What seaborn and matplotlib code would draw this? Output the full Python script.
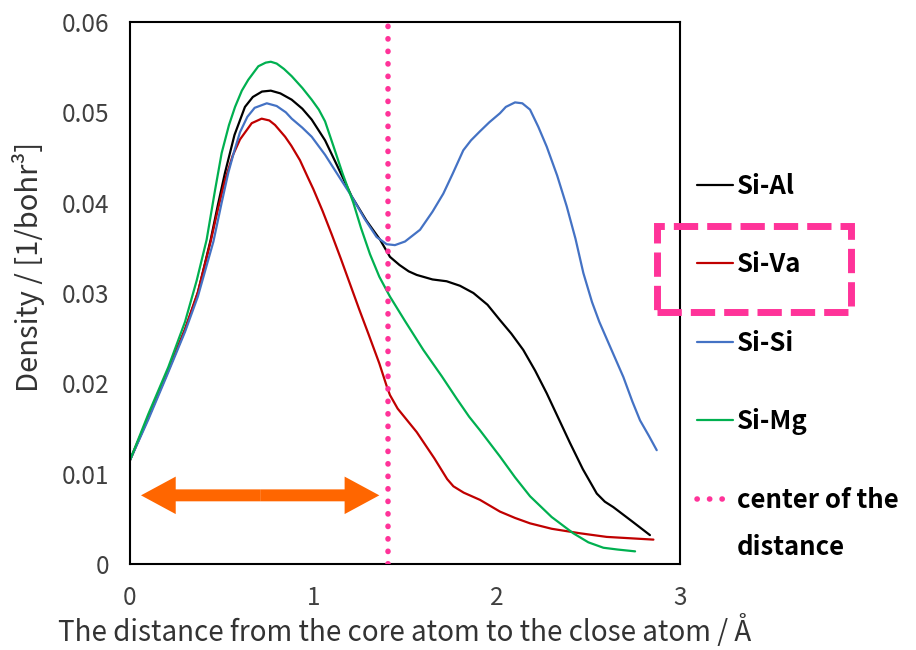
import matplotlib
matplotlib.use("Agg")
import matplotlib.pyplot as plt
import numpy as np
import pandas as pd
import seaborn as sns
from matplotlib.ticker import MultipleLocator, FixedLocator
from matplotlib.lines import Line2D
from matplotlib.patches import FancyArrowPatch, Rectangle, ArrowStyle

# ---------------- data ----------------
series_names = ["Si-Al", "Si-Va", "Si-Si", "Si-Mg"]
series_colors = ["#000000", "#C00000", "#4472C4", "#00B050"]

si_al_x = [0, 0.1, 0.2, 0.3, 0.37, 0.44, 0.48, 0.518, 0.57, 0.627, 0.67, 0.72, 0.768, 0.82,
           0.882, 0.94, 0.991, 1.064, 1.13, 1.209, 1.29, 1.364, 1.418, 1.47, 1.52, 1.564, 1.65,
           1.727, 1.80, 1.873, 1.95, 2.018, 2.08, 2.145, 2.21, 2.273, 2.34, 2.40, 2.47, 2.546,
           2.59, 2.636, 2.74, 2.836]
si_al_y = [0.0115, 0.0162, 0.0210, 0.0259, 0.0300, 0.0359, 0.0398, 0.0433, 0.0475, 0.0506,
           0.0517, 0.0523, 0.0524, 0.0521, 0.0514, 0.0504, 0.0492, 0.0469, 0.0441, 0.0407, 0.0380,
           0.0359, 0.0340, 0.0331, 0.0324, 0.0320, 0.0315, 0.0313, 0.0308, 0.0300, 0.0287, 0.0270,
           0.0255, 0.0237, 0.0214, 0.0189, 0.0160, 0.0134, 0.0105, 0.0078, 0.0069, 0.0063, 0.0047,
           0.0032]

si_va_x = [0, 0.1, 0.2, 0.3, 0.37, 0.44, 0.48, 0.518, 0.56, 0.60, 0.664, 0.718, 0.76, 0.791,
           0.846, 0.88, 0.927, 0.97, 1.0, 1.05, 1.1, 1.15, 1.2, 1.25, 1.3, 1.36, 1.40, 1.418, 1.46,
           1.564, 1.66, 1.73, 1.764, 1.82, 1.909, 2.018, 2.10, 2.182, 2.30, 2.455, 2.60, 2.855]
si_va_y = [0.0115, 0.0163, 0.0210, 0.0260, 0.0301, 0.0357, 0.0393, 0.0425, 0.0452, 0.0470,
           0.0488, 0.0493, 0.0491, 0.0486, 0.0473, 0.0463, 0.0447, 0.0428, 0.0415, 0.0391, 0.0365,
           0.0338, 0.0310, 0.0282, 0.0255, 0.0222, 0.0197, 0.0187, 0.0172, 0.0146, 0.0117, 0.0094,
           0.0086, 0.0079, 0.0071, 0.0058, 0.0051, 0.0045, 0.0039, 0.0034, 0.0030, 0.0027]

si_si_x = [0, 0.1, 0.2, 0.3, 0.37, 0.455, 0.50, 0.536, 0.57, 0.60, 0.64, 0.68, 0.746, 0.80,
           0.85, 0.882, 0.94, 0.991, 1.064, 1.13, 1.209, 1.28, 1.345, 1.40, 1.445, 1.50, 1.582,
           1.65, 1.709, 1.76, 1.818, 1.86, 1.909, 1.96, 2.018, 2.05, 2.1, 2.14, 2.182, 2.227,
           2.273, 2.33, 2.382, 2.43, 2.473, 2.52, 2.56, 2.62, 2.691, 2.74, 2.782, 2.83, 2.873]
si_si_y = [0.0115, 0.0160, 0.0208, 0.0257, 0.0296, 0.0357, 0.0400, 0.0433, 0.0458, 0.0478,
           0.0495, 0.0505, 0.0510, 0.0507, 0.0500, 0.0493, 0.0483, 0.0473, 0.0453, 0.0432, 0.0407,
           0.0382, 0.0362, 0.0354, 0.0353, 0.0357, 0.0370, 0.0390, 0.0410, 0.0432, 0.0458, 0.0469,
           0.0479, 0.0489, 0.0499, 0.0506, 0.0511, 0.0510, 0.0503, 0.0484, 0.0462, 0.0430, 0.0396,
           0.0360, 0.0322, 0.0290, 0.0268, 0.0240, 0.0207, 0.0180, 0.0159, 0.0142, 0.0126]

si_mg_x = [0, 0.1, 0.209, 0.30, 0.364, 0.418, 0.464, 0.50, 0.54, 0.573, 0.61, 0.645, 0.70, 0.74,
           0.768, 0.80, 0.84, 0.882, 0.94, 0.991, 1.03, 1.064, 1.109, 1.16, 1.218, 1.26, 1.309,
           1.36, 1.418, 1.50, 1.60, 1.70, 1.782, 1.85, 1.909, 2.018, 2.10, 2.182, 2.30, 2.418,
           2.50, 2.582, 2.66, 2.755]
si_mg_y = [0.0115, 0.0166, 0.0218, 0.0268, 0.0314, 0.0359, 0.0414, 0.0455, 0.0486, 0.0506,
           0.0524, 0.0536, 0.0551, 0.0555, 0.0556, 0.0554, 0.0548, 0.0540, 0.0527, 0.0514, 0.0503,
           0.0490, 0.0463, 0.0432, 0.0400, 0.0372, 0.0343, 0.0318, 0.0296, 0.0269, 0.0237, 0.0208,
           0.0183, 0.0163, 0.0148, 0.0119, 0.0096, 0.0075, 0.0052, 0.0034, 0.0024, 0.0018, 0.0016,
           0.0014]

center_distance = 1.41
center_label_lines = ["center of the", "distance"]
arrow_x = [0.06, 1.36]
arrow_y = 0.0076

x_ticks = [0, 1, 2, 3]
x_tick_labels = ["0", "1", "2", "3"]
y_ticks = [0, 0.01, 0.02, 0.03, 0.04, 0.05, 0.06]
y_tick_labels = ["0", "0.01", "0.02", "0.03", "0.04", "0.05", "0.06"]
x_label = "The distance from the core atom to the close atom / Å"
y_label = "Density / [1/bohr³]"

# ---------------- build long-form table ----------------
xs = [si_al_x, si_va_x, si_si_x, si_mg_x]
ys = [si_al_y, si_va_y, si_si_y, si_mg_y]
frames = [pd.DataFrame({"x": x, "y": y, "pair": n}) for x, y, n in zip(xs, ys, series_names)]
df = pd.concat(frames, ignore_index=True)
palette = dict(zip(series_names, series_colors))

sns.set_style("white")
plt.rcParams["font.family"] = ["Noto Sans CJK JP", "DejaVu Sans"]

fig = plt.figure(figsize=(9.16, 6.5), dpi=100)
ax = fig.add_axes([130 / 916, 1 - 564 / 650, 550 / 916, 542 / 650])

sns.lineplot(data=df, x="x", y="y", hue="pair", palette=palette, sort=False,
             estimator=None, linewidth=1.6, legend=False, ax=ax)
for ln in ax.get_lines():
    ln.set_solid_joinstyle("round")
    ln.set_solid_capstyle("round")

pink = "#FF3399"
dot_style = (0, (0.05, 2.2))
ax.axvline(center_distance, ymin=0, ymax=0.992, color=pink, linewidth=4,
           linestyle=dot_style, dash_capstyle="round", zorder=3)

# orange double arrow
mid = (arrow_x[0] + arrow_x[1]) / 2
style = ArrowStyle.Simple(head_length=25, head_width=27, tail_width=8.6)
for end in arrow_x:
    ax.add_patch(FancyArrowPatch((mid, arrow_y), (end, arrow_y), arrowstyle=style,
                                 mutation_scale=1, color="#FF6600", lw=0,
                                 shrinkA=0, shrinkB=0, zorder=4))

ax.set_xlim(0, 3)
ax.set_ylim(0, 0.06)
ax.xaxis.set_major_locator(FixedLocator(x_ticks))
ax.set_xticklabels(x_tick_labels)
ax.yaxis.set_major_locator(FixedLocator(y_ticks))
ax.set_yticklabels(y_tick_labels)
ax.xaxis.set_minor_locator(MultipleLocator(0.2))
ax.yaxis.set_minor_locator(MultipleLocator(0.002))
ax.tick_params(axis="both", which="both", direction="in", top=False, right=False,
               color="#000000", width=1.2, labelsize=17.5, labelcolor="#404040", pad=15)
ax.tick_params(which="major", length=6)
ax.tick_params(which="minor", length=5)
for s in ax.spines.values():
    s.set_visible(True)
    s.set_color("#000000")
    s.set_linewidth(1.5)

ax.set_xlabel(x_label, fontsize=20, color="#333333", labelpad=3)
ax.set_ylabel(y_label, fontsize=21, color="#333333")
ax.yaxis.set_label_coords(-0.155, (564 - 267) / 542)

handles = [Line2D([], [], color=c, linewidth=1.6) for c in series_colors]
handles.append(Line2D([], [], color=pink, linewidth=4, linestyle=dot_style,
                      dash_capstyle="round"))
labels = series_names + [center_label_lines[0]]
leg = fig.legend(handles, labels, loc="upper left", bbox_to_anchor=(697 / 916, 1 - 173 / 650),
                 frameon=False, fontsize=18.5, handlelength=1.4, handletextpad=0.15,
                 labelspacing=2.0, borderpad=0, borderaxespad=0)
for t in leg.get_texts():
    t.set_fontweight("bold")
    t.set_color("#000000")

# second line of the last legend label, aligned under its first line
fig.canvas.draw()
bb = leg.get_texts()[-1].get_window_extent()
fig.text(bb.x0 / 916, (bb.y0 - 47) / 650, center_label_lines[1], fontsize=18.5,
         fontweight="bold", color="#000000", ha="left", va="bottom")

rect = Rectangle((657 / 916, 1 - 312 / 650), (851 - 657) / 916, (312 - 226) / 650,
                 transform=fig.transFigure, fill=False, edgecolor=pink, linewidth=5,
                 linestyle=(0, (3.5, 1.3)))
fig.patches.append(rect)

fig.savefig("out.png", dpi=100)
